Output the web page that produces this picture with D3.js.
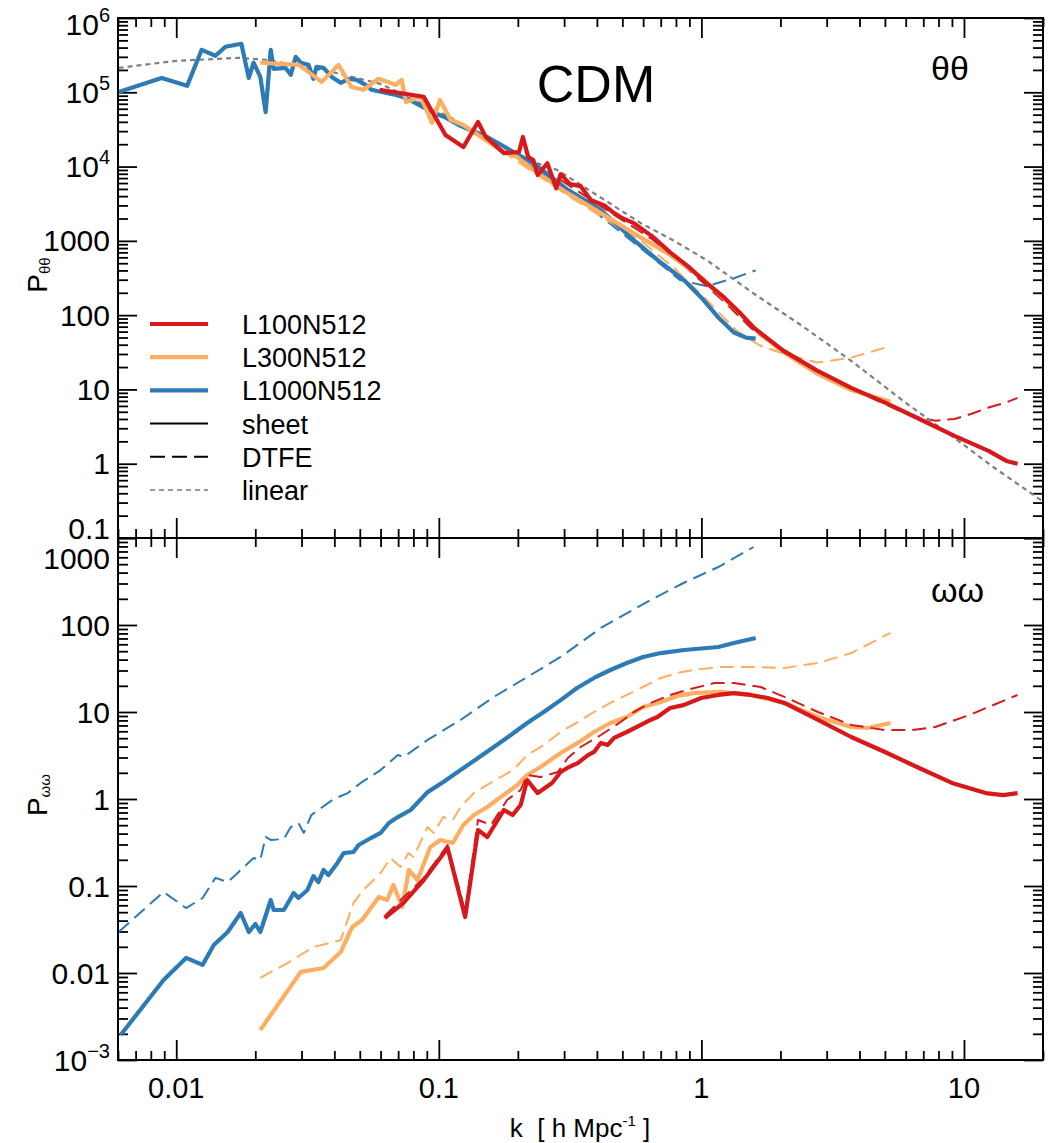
<html>
  <head>
    <title>CDM theta-theta / omega-omega</title>
    <style type="text/css">
      body { margin: 0; background: #fff; }
      text { font-family: "Liberation Sans", Arial, Helvetica, sans-serif; fill: #000; white-space: pre; }
    </style>
    <script src="https://d3js.org/d3.v7.min.js"></script>
  </head>
  <body>
    <svg class="chart" width="1053" height="1143"></svg>
    <script>

// ---- data (k in h/Mpc, P) ----
var xTicks = [0.01, 0.1, 1, 10];
var xTickLabels = ["0.01", "0.1", "1", "10"];

var thetaTicks = [1e6, 1e5, 1e4, 1000, 100, 10, 1, 0.1];
var thetaTickLabels = [["10", "6"], ["10", "5"], ["10", "4"], ["1000"], ["100"], ["10"], ["1"], ["0.1"]];
var omegaTicks = [1000, 100, 10, 1, 0.1, 0.01, 0.001];
var omegaTickLabels = [["1000"], ["100"], ["10"], ["1"], ["0.1"], ["0.01"], ["10", "\u22123"]];

var runs = ["L100N512", "L300N512", "L1000N512"];
var runColors = ["#d7191c", "#fdae61", "#2c7bb6"];

var thetaLinear = [[0.00603,2.13e5],[0.01,2.65e5],[0.0173,2.91e5],[0.0219,2.74e5],[0.0391,1.88e5],[0.06,1.3e5],[0.0836,7.4e4],[0.112,4.5e4],[0.136,2.83e4],[0.177,1.57e4],[0.283,8.97e3],[0.4,4.13e3],[0.588,1.73e3],[0.78,1.02e3],[1.05,547],[1.58,196],[2.4,73],[3.72,24.3],[6,6.6],[9.2,2.22],[13,0.89],[20,0.31]];

var thetaSheet1000 = [[0.00603,1.01e5],[0.0088,1.56e5],[0.011,1.22e5],[0.0125,3.73e5],[0.0141,3.1e5],[0.0154,4.1e5],[0.0177,4.5e5],[0.0189,1.56e5],[0.0197,2.5e5],[0.0209,1.61e5],[0.0219,5.4e4],[0.0229,3.73e5],[0.0235,2.07e5],[0.0261,2.13e5],[0.0273,1.72e5],[0.0285,3.0e5],[0.0298,2.5e5],[0.0319,2.34e5],[0.0333,1.52e5],[0.0342,2.2e5],[0.0364,2.13e5],[0.0391,1.61e5],[0.0423,1.34e5],[0.0454,1.52e5],[0.0487,1.47e5],[0.0526,1.26e5],[0.0555,1.08e5],[0.0606,1.01e5],[0.0686,9.2e4],[0.075,8.4e4],[0.084,6.75e4],[0.0942,5.43e4],[0.105,4.65e4],[0.119,3.63e4],[0.153,2.5e4],[0.229,1.11e4],[0.309,4.9e3],[0.414,2.6e3],[0.553,1.02e3],[0.684,547],[0.86,294],[0.998,173],[1.16,93],[1.33,58.3],[1.48,49.9],[1.61,48.4]];
var thetaDtfe1000 = [[0.153,2.4e4],[0.229,9.8e3],[0.309,4.7e3],[0.4,2.35e3],[0.51,1.19e3],[0.67,550],[0.83,296],[1.05,245],[1.33,314],[1.61,400]];

var thetaSheet300 = [[0.0209,2.5e5],[0.0293,2.34e5],[0.0358,1.38e5],[0.0415,2.34e5],[0.0465,1.18e5],[0.0517,1.08e5],[0.0589,1.52e5],[0.0686,1.26e5],[0.0722,1.47e5],[0.075,7.4e4],[0.0853,8.7e4],[0.0942,3.87e4],[0.101,7.9e4],[0.111,4.25e4],[0.124,3.63e4],[0.145,2.5e4],[0.172,1.67e4],[0.199,1.34e4],[0.229,8.97e3],[0.309,4.39e3],[0.414,2.36e3],[0.553,1.26e3],[0.744,679],[0.998,322],[1.41,105],[1.67,56.5],[2.05,32],[2.76,16.3],[3.72,9.8],[5.25,6.8]];
var thetaDtfe300 = [[0.172,1.67e4],[0.309,4.1e3],[0.45,1.78e3],[0.588,1.0e3],[0.783,437],[1.05,159],[1.36,62],[1.67,39],[2.05,30.4],[2.76,23],[3.72,26.8],[5.03,36.6]];

var thetaSheet100 = [[0.0595,1.08e5],[0.0876,8.7e4],[0.106,2.66e4],[0.124,1.83e4],[0.141,3.98e4],[0.151,2.5e4],[0.177,1.52e4],[0.202,1.57e4],[0.209,2.5e4],[0.219,1.34e4],[0.229,1.22e4],[0.238,7.7e3],[0.259,1.11e4],[0.28,5.1e3],[0.291,7.9e3],[0.316,5.8e3],[0.347,5.45e3],[0.38,3.52e3],[0.427,3.0e3],[0.46,2.43e3],[0.5,2.02e3],[0.553,1.73e3],[0.65,1.15e3],[0.76,700],[0.89,454],[1.05,267],[1.22,173],[1.41,105],[1.58,68],[2.05,33.3],[2.76,17.9],[3.72,10.5],[5.03,6.6],[6.77,4.0],[9.2,2.37],[12.4,1.49],[14.5,1.09],[16,1.0]];
var thetaDtfe100 = [[0.291,6.6e3],[0.46,2.3e3],[0.65,1.05e3],[0.89,415],[1.22,152],[1.58,62],[2.05,32],[2.76,17.4],[3.72,10.2],[5.03,6.3],[6.4,4.3],[7.8,3.8],[9.2,4.0],[10.7,4.7],[12.4,5.7],[14.5,6.7],[16,7.7]];

var omegaSheet1000 = [[0.00614,1.94e-3],[0.00895,8.3e-3],[0.0109,0.0149],[0.0126,0.0124],[0.0139,0.021],[0.0157,0.0296],[0.0176,0.049],[0.0189,0.0296],[0.02,0.0366],[0.0209,0.0296],[0.0229,0.069],[0.0235,0.053],[0.0257,0.053],[0.028,0.083],[0.0292,0.0728],[0.0316,0.09],[0.0333,0.13],[0.0348,0.111],[0.0364,0.153],[0.038,0.134],[0.0411,0.184],[0.0434,0.239],[0.0473,0.246],[0.0495,0.296],[0.0551,0.356],[0.06,0.407],[0.0645,0.53],[0.0698,0.62],[0.0781,0.748],[0.0906,1.2],[0.104,1.57],[0.121,2.15],[0.141,2.96],[0.162,3.96],[0.188,5.44],[0.217,7.47],[0.251,10],[0.291,13.7],[0.336,18.9],[0.39,24.6],[0.45,30.4],[0.52,36.6],[0.6,42.9],[0.7,47.6],[0.86,51.6],[1.16,55.9],[1.33,62.1],[1.61,71]];
var omegaDtfe1000 = [[0.00603,0.0296],[0.00895,0.0853],[0.0109,0.0558],[0.0126,0.0728],[0.0141,0.124],[0.0157,0.111],[0.0165,0.127],[0.0197,0.21],[0.0209,0.199],[0.0219,0.366],[0.0229,0.338],[0.0257,0.347],[0.0273,0.476],[0.0292,0.53],[0.0306,0.407],[0.0327,0.655],[0.0398,1.0],[0.045,1.17],[0.0504,1.53],[0.06,2.15],[0.0698,3.2],[0.0735,3.04],[0.0906,4.77],[0.121,8.1],[0.162,14.9],[0.217,25.2],[0.291,42.9],[0.414,92.4],[0.64,194],[0.855,304],[1.16,464],[1.58,788]];

var omegaSheet300 = [[0.0209,0.00221],[0.0298,0.0103],[0.0364,0.0114],[0.0423,0.0174],[0.0468,0.0338],[0.051,0.0407],[0.0591,0.0748],[0.0636,0.069],[0.0671,0.1026],[0.0726,0.0574],[0.0769,0.153],[0.0829,0.117],[0.0928,0.28],[0.1012,0.338],[0.113,0.312],[0.124,0.503],[0.136,0.655],[0.153,0.809],[0.172,1.05],[0.199,1.45],[0.217,1.89],[0.244,2.33],[0.291,3.38],[0.338,4.41],[0.39,5.89],[0.45,7.47],[0.52,8.77],[0.6,11.4],[0.7,13.0],[0.81,15.3],[0.935,16.5],[1.18,17.0],[1.54,15.7],[2.07,12.7],[2.78,8.77],[3.72,6.73],[4.3,6.55],[5.25,7.47]];
var omegaDtfe300 = [[0.0209,0.00877],[0.0265,0.013],[0.0333,0.0199],[0.0423,0.0239],[0.0473,0.064],[0.0516,0.09],[0.06,0.141],[0.0655,0.21],[0.0715,0.165],[0.0766,0.239],[0.08,0.215],[0.0906,0.476],[0.0956,0.407],[0.104,0.621],[0.113,0.574],[0.121,0.809],[0.136,1.17],[0.148,1.37],[0.172,1.79],[0.192,2.15],[0.217,3.2],[0.251,4.18],[0.291,5.89],[0.338,7.67],[0.39,10],[0.45,12.7],[0.52,15.7],[0.6,19.4],[0.7,24.6],[0.81,28.1],[0.935,30.4],[1.16,32.9],[1.54,32.9],[2.07,32.1],[2.78,36.6],[3.72,47.6],[5.25,81]];

var omegaSheet100 = [[0.0622,0.0428],[0.0733,0.0638],[0.0876,0.117],[0.108,0.274],[0.126,0.044],[0.141,0.44],[0.153,0.366],[0.177,0.748],[0.191,0.655],[0.205,0.853],[0.217,1.65],[0.238,1.17],[0.27,1.53],[0.291,2.04],[0.313,2.33],[0.338,2.59],[0.37,3.2],[0.39,3.47],[0.414,4.41],[0.44,4.18],[0.465,5.03],[0.52,5.89],[0.588,7.1],[0.64,8.1],[0.68,8.77],[0.76,11.1],[0.855,12.0],[0.998,14.5],[1.16,15.7],[1.33,16.5],[1.54,15.7],[1.79,14.5],[2.07,12.7],[2.78,8.1],[3.72,5.16],[5.0,3.47],[6.75,2.27],[9.0,1.53],[12.1,1.17],[14.1,1.11],[16,1.17]];
var omegaDtfe100 = [[0.0622,0.0452],[0.0876,0.124],[0.108,0.296],[0.126,0.0502],[0.141,0.574],[0.158,0.503],[0.182,0.975],[0.205,1.27],[0.217,1.89],[0.244,1.79],[0.284,2.04],[0.31,2.96],[0.347,3.96],[0.414,5.44],[0.493,7.67],[0.553,10],[0.64,12.7],[0.76,15.7],[0.91,18.4],[1.12,21.5],[1.33,21.5],[1.68,19.4],[2.07,14.9],[2.78,10],[3.72,7.1],[5.0,6.2],[6.35,6.2],[7.77,6.73],[10.5,9.25],[16,15.7]];

// ---- layout ----
var plotLeft = 118, plotRight = 1043, plotTop = 18, plotMid = 538, plotBottom = 1060;

var svg = d3.select(".chart");

var x = d3.scaleLog().domain([0.006, 20]).range([plotLeft, plotRight]);
var yTop = d3.scaleLog().domain([0.1, 1e6]).range([plotMid, plotTop]);
var yBot = d3.scaleLog().domain([1e-3, 1e3]).range([plotBottom, plotMid]);

// 1..9 x 10^n inside a domain
function logTicks(domain, major) {
  var out = [];
  var lo = Math.floor(Math.log10(domain[0])), hi = Math.ceil(Math.log10(domain[1]));
  for (var e = lo; e <= hi; e++) {
    for (var m = 1; m <= 9; m++) {
      if (major && m != 1) continue;
      if (!major && m == 1) continue;
      var v = +(m * Math.pow(10, e)).toPrecision(6);
      if (v >= domain[0] * 0.9999 && v <= domain[1] * 1.0001) out.push(v);
    }
  }
  return out;
}

function drawTicks(g) {
  g.select(".domain").remove();
  g.selectAll("line").attr("stroke", "#000").attr("stroke-width", 1.8);
}

function panel(y, y0, y1, name) {
  svg.append("clipPath").attr("id", "clip-" + name)
    .append("rect").attr("x", plotLeft).attr("y", y1).attr("width", plotRight - plotLeft).attr("height", y0 - y1);

  // y ticks on both sides, pointing inward
  [[d3.axisLeft, plotLeft], [d3.axisRight, plotRight]].forEach(function(a) {
    svg.append("g").attr("transform", "translate(" + a[1] + ",0)")
      .call(a[0](y).tickValues(logTicks(y.domain(), false)).tickSize(-10).tickSizeOuter(0).tickFormat(""))
      .call(drawTicks);
    svg.append("g").attr("transform", "translate(" + a[1] + ",0)")
      .call(a[0](y).tickValues(logTicks(y.domain(), true)).tickSize(-19).tickSizeOuter(0).tickFormat(""))
      .call(drawTicks);
  });
  // x ticks on top and bottom edges of the panel
  [[d3.axisTop, y1], [d3.axisBottom, y0]].forEach(function(a) {
    svg.append("g").attr("transform", "translate(0," + a[1] + ")")
      .call(a[0](x).tickValues(logTicks(x.domain(), false)).tickSize(-9).tickSizeOuter(0).tickFormat(""))
      .call(drawTicks);
    svg.append("g").attr("transform", "translate(0," + a[1] + ")")
      .call(a[0](x).tickValues(logTicks(x.domain(), true)).tickSize(-20).tickSizeOuter(0).tickFormat(""))
      .call(drawTicks);
  });

  return svg.append("g").attr("clip-path", "url(#clip-" + name + ")");
}

var gTop = panel(yTop, plotMid, plotTop, "top");
var gBot = panel(yBot, plotBottom, plotMid, "bot");

// frame
svg.append("rect").attr("x", plotLeft).attr("y", plotTop)
  .attr("width", plotRight - plotLeft).attr("height", plotBottom - plotTop)
  .attr("fill", "none").attr("stroke", "#000").attr("stroke-width", 2);
svg.append("line").attr("x1", plotLeft).attr("x2", plotRight).attr("y1", plotMid).attr("y2", plotMid)
  .attr("stroke", "#000").attr("stroke-width", 2);

// curves
function curve(g, y, data, color, kind) {
  var line = d3.line().x(function(d) { return x(d[0]); }).y(function(d) { return y(d[1]); });
  var p = g.append("path").datum(data)
    .attr("fill", "none")
    .attr("stroke", color)
    .attr("stroke-linejoin", "round")
    .attr("d", line);
  if (kind == "sheet") p.attr("stroke-width", 4.2);
  if (kind == "dtfe") p.attr("stroke-width", 2).attr("stroke-dasharray", "14,7");
  if (kind == "linear") p.attr("stroke-width", 2.2).attr("stroke-dasharray", "5,4");
}

curve(gTop, yTop, thetaDtfe1000, runColors[2], "dtfe");
curve(gTop, yTop, thetaDtfe300, runColors[1], "dtfe");
curve(gTop, yTop, thetaDtfe100, runColors[0], "dtfe");
curve(gTop, yTop, thetaLinear, "#808080", "linear");
curve(gTop, yTop, thetaSheet1000, runColors[2], "sheet");
curve(gTop, yTop, thetaSheet300, runColors[1], "sheet");
curve(gTop, yTop, thetaSheet100, runColors[0], "sheet");

curve(gBot, yBot, omegaDtfe1000, runColors[2], "dtfe");
curve(gBot, yBot, omegaDtfe300, runColors[1], "dtfe");
curve(gBot, yBot, omegaSheet1000, runColors[2], "sheet");
curve(gBot, yBot, omegaSheet300, runColors[1], "sheet");
curve(gBot, yBot, omegaSheet100, runColors[0], "sheet");
curve(gBot, yBot, omegaDtfe100, runColors[0], "dtfe");

// y tick labels
function yLabels(y, ticks, labels, shifts) {
  ticks.forEach(function(v, i) {
    var t = svg.append("text")
      .attr("x", 110)
      .attr("y", y(v) + 10.5 + (shifts[i] || 0))
      .attr("text-anchor", "end")
      .style("font-size", "30px");
    t.append("tspan").text(labels[i][0]);
    if (labels[i][1]) t.append("tspan").attr("dy", -13).style("font-size", "20px").text(labels[i][1]);
  });
}
yLabels(yTop, thetaTicks, thetaTickLabels, {0: 6, 7: -10});
yLabels(yBot, omegaTicks, omegaTickLabels, {0: 20});

// x tick labels
xTicks.forEach(function(v, i) {
  svg.append("text").attr("x", x(v)).attr("y", 1098)
    .attr("text-anchor", "middle").style("font-size", "29px").text(xTickLabels[i]);
});

// axis titles
var xt = svg.append("text").attr("x", 580).attr("y", 1137).attr("text-anchor", "middle").style("font-size", "26px");
xt.append("tspan").text("k  [ h Mpc");
xt.append("tspan").attr("dy", -11).style("font-size", "15px").text("-1");
xt.append("tspan").attr("dy", 11).text(" ]");

function yTitle(cy, sub) {
  var t = svg.append("text").attr("transform", "translate(47," + cy + ") rotate(-90)")
    .attr("text-anchor", "middle").style("font-size", "28px");
  t.append("tspan").text("P");
  t.append("tspan").attr("dy", 3).style("font-size", "15px").text(sub);
}
yTitle(275, "\u03b8\u03b8");
yTitle(795, "\u03c9\u03c9");

svg.append("text").attr("x", 596).attr("y", 102).attr("text-anchor", "middle").style("font-size", "52px").text("CDM");
svg.append("text").attr("x", 931).attr("y", 80).style("font-size", "34px").text("\u03b8\u03b8");
svg.append("text").attr("x", 931).attr("y", 602).style("font-size", "34px").text("\u03c9\u03c9");

// legend
var legendRows = [
  {label: runs[0], color: runColors[0], kind: "sheet"},
  {label: runs[1], color: runColors[1], kind: "sheet"},
  {label: runs[2], color: runColors[2], kind: "sheet"},
  {label: "sheet", color: "#000", kind: "thin"},
  {label: "DTFE", color: "#000", kind: "dtfe"},
  {label: "linear", color: "#999", kind: "linear"}
];
legendRows.forEach(function(r, i) {
  var cy = 324 + i * 33.2;
  var l = svg.append("line").attr("x1", 150).attr("x2", 208).attr("y1", cy).attr("y2", cy)
    .attr("stroke", r.color);
  if (r.kind == "sheet") l.attr("stroke-width", 4.2);
  if (r.kind == "thin") l.attr("stroke-width", 2);
  if (r.kind == "dtfe") l.attr("stroke-width", 2).attr("stroke-dasharray", "15,7");
  if (r.kind == "linear") l.attr("stroke-width", 2.2).attr("stroke-dasharray", "5,4");
  svg.append("text").attr("x", 242).attr("y", cy + 10).style("font-size", "27px").text(r.label);
});

</script>
  </body>
</html>
